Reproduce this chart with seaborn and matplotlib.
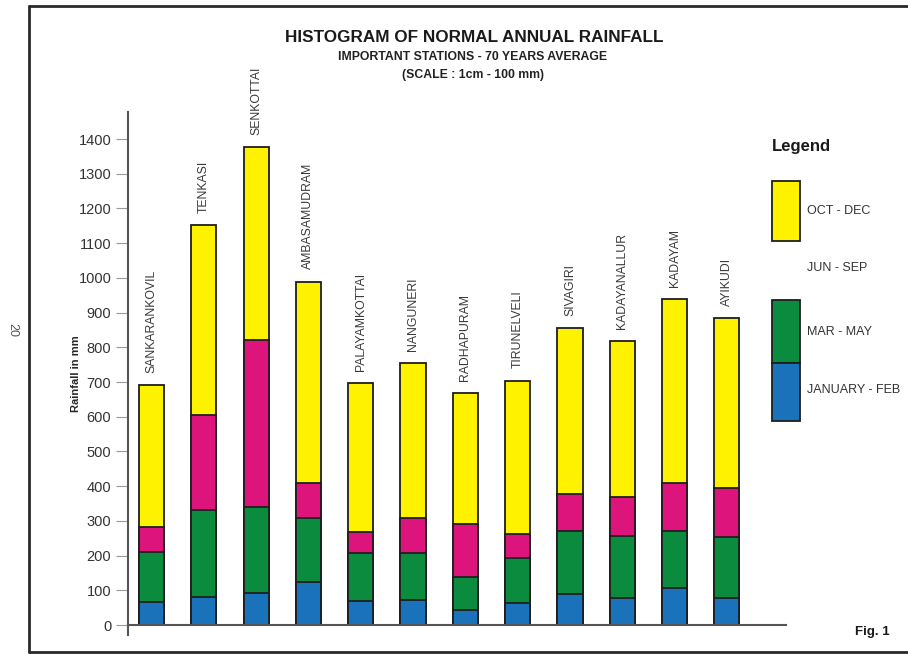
import pandas as pd
import matplotlib.pyplot as plt
import seaborn as sns
from matplotlib.patches import Rectangle
from matplotlib.lines import Line2D

stations = ['SANKARANKOVIL', 'TENKASI', 'SENKOTTAI', 'AMBASAMUDRAM', 'PALAYAMKOTTAI',
            'NANGUNERI', 'RADHAPURAM', 'TIRUNELVELI', 'SIVAGIRI', 'KADAYANALLUR',
            'KADAYAM', 'AYIKUDI']
jan_feb = [65, 82, 91, 125, 69, 72, 43, 64, 88, 79, 106, 77]
mar_may = [146, 249, 250, 182, 137, 136, 94, 130, 183, 177, 165, 176]
jun_sep = [70, 273, 480, 103, 61, 101, 154, 68, 106, 114, 137, 143]
oct_dec = [410, 547, 555, 579, 429, 445, 376, 442, 478, 448, 531, 488]
season_labels = ['OCT - DEC', 'JUN - SEP', 'MAR - MAY', 'JANUARY - FEB']
yticks = list(range(0, 1500, 100))

df = pd.DataFrame({'station': stations, 'jan': jan_feb, 'mar': mar_may,
                   'jun': jun_sep, 'oct': oct_dec})
df['c1'] = df['jan']
df['c2'] = df['c1'] + df['mar']
df['c3'] = df['c2'] + df['jun']
df['c4'] = df['c3'] + df['oct']

sns.set_style('white')
plt.rcParams['font.family'] = ['Liberation Sans', 'DejaVu Sans']

yellow, pink, green, blue = '#FFF200', '#DC147C', '#0B8B3E', '#1A72BA'
edge = '#1e1e1e'

fig = plt.figure(figsize=(9.08, 6.55), dpi=100)
ax = fig.add_axes([128 / 908, 20 / 655, 658 / 908, 523 / 655])

# stacked bars by layering cumulative sums, tallest first
for col, c in [('c4', yellow), ('c3', pink), ('c2', green), ('c1', blue)]:
    sns.barplot(data=df, x='station', y=col, color=c, saturation=1, width=0.48,
                edgecolor=edge, linewidth=1.3, ax=ax)

for i, (name, tot) in enumerate(zip(df['station'], df['c4'])):
    ax.annotate(name, xy=(i, tot), xytext=(0, 9), textcoords='offset points',
                rotation=90, ha='center', va='bottom', fontsize=8.8, color='#3a3a3a')

ax.set_xlim(-0.449, 12.13)
ax.set_ylim(-28.8, 1477.8)
ax.set_xticks([])
ax.set_yticks(yticks)
ax.set_xlabel('')
ax.set_ylabel('Rainfall in mm', fontsize=8, fontweight='bold', labelpad=-2)
ax.tick_params(axis='y', length=9, width=0.8, color='#999999', labelsize=10.5,
               labelcolor='#333333', pad=3, left=True)
for s in ['top', 'right']:
    ax.spines[s].set_visible(False)
ax.spines['bottom'].set_position(('data', 0))
for s in ['left', 'bottom']:
    ax.spines[s].set_color('#555555')
    ax.spines[s].set_linewidth(1.5)

# titles
fig.text(474 / 908, 1 - 37 / 655, 'HISTOGRAM OF NORMAL ANNUAL RAINFALL', ha='center',
         va='center', fontsize=12.3, fontweight='bold', color='#1a1a1a')
fig.text(473 / 908, 1 - 57 / 655, 'IMPORTANT STATIONS - 70 YEARS AVERAGE', ha='center',
         va='center', fontsize=8.8, fontweight='bold', color='#222222')
fig.text(473 / 908, 1 - 75 / 655, '(SCALE : 1cm - 100 mm)', ha='center',
         va='center', fontsize=8.8, fontweight='bold', color='#222222')

# hand-drawn legend on the right
fig.text(772 / 908, 1 - 146 / 655, 'Legend', ha='left', va='center', fontsize=12,
         fontweight='bold', color='#1a1a1a')
for (y0, y1), c in [((181, 241), yellow), ((300, 363), green), ((363, 421), blue)]:
    fig.patches.append(Rectangle((772 / 908, 1 - y1 / 655), 28 / 908, (y1 - y0) / 655,
                                 transform=fig.transFigure, facecolor=c, edgecolor=edge,
                                 linewidth=1.3))
for lab, y in zip(season_labels, [211, 268, 332, 390]):
    fig.text(807 / 908, 1 - y / 655, lab, ha='left', va='center', fontsize=9,
             color='#333333')

fig.text(855 / 908, 1 - 632 / 655, 'Fig. 1', ha='left', va='center', fontsize=9.5,
         fontweight='bold', color='#1a1a1a')
fig.text(12 / 908, 1 - 330 / 655, '20', ha='center', va='center', fontsize=9,
         rotation=-90, color='#555555')

# page frame
for xs, ys in [([29, 29], [6, 652]), ([29, 908], [6, 6]), ([29, 908], [652, 652])]:
    fig.add_artist(Line2D([x / 908 for x in xs], [1 - y / 655 for y in ys],
                          transform=fig.transFigure, color='#2a2a2a', linewidth=2))

plt.savefig('out.png', dpi=100)
